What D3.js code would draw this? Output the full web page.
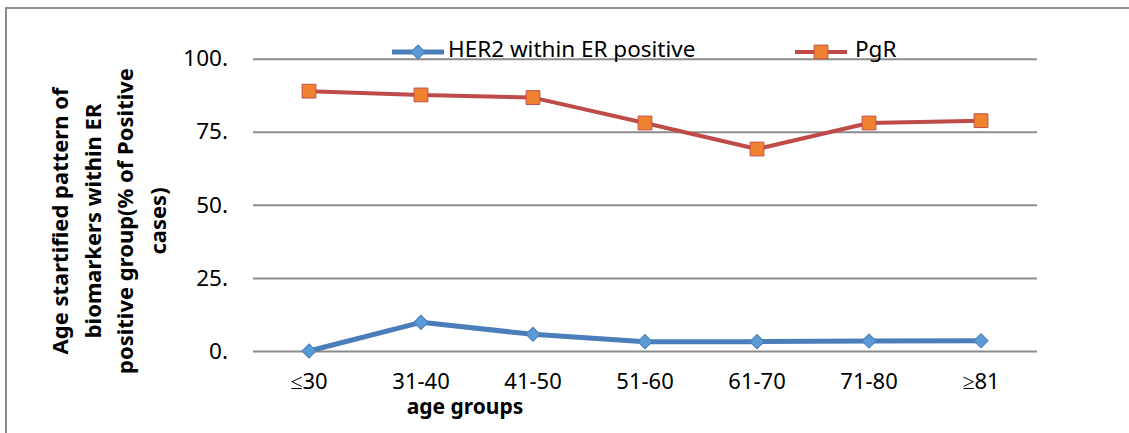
<!DOCTYPE html>
<html lang="en">
  <head>
    <meta charset="UTF-8" />
    <title>Age stratified biomarkers</title>
    <script src="https://cdn.jsdelivr.net/npm/d3@7"></script>
    <style>
      body { margin: 0; background: #fff; }
      text { font-family: "Noto Sans", "Open Sans", sans-serif; }
    </style>
  </head>
  <body>
    <svg width="1129" height="433"></svg>
    <script>
      const categories = ["≤30", "31-40", "41-50", "51-60", "61-70", "71-80", "≥81"];
      const her2 = [0, 9.8, 5.7, 3.2, 3.2, 3.4, 3.5];
      const pgr = [88.9, 87.6, 86.7, 78.0, 69.1, 78.0, 78.8];
      const yTicks = [0, 25, 50, 75, 100];
      const seriesNames = ["HER2 within ER positive", "PgR"];

      const svg = d3.select("svg");
      const marge = { top: 58.7, left: 253, right: 92, bottom: 82 };
      const width = 1129, height = 433;

      // outer frame, cut off at right and bottom
      svg.append("path")
        .attr("d", `M6,433 V8 H1129`)
        .attr("fill", "none")
        .attr("stroke", "#8c8c8c")
        .attr("stroke-width", 2);

      const xScale = d3.scaleBand()
        .domain(categories)
        .range([marge.left, width - marge.right]);
      const yScale = d3.scaleLinear()
        .domain([0, 100])
        .range([height - marge.bottom, marge.top]);

      // gridlines + y labels
      const yAxis = d3.axisLeft(yScale)
        .tickValues(yTicks)
        .tickSize(-(xScale.range()[1] - xScale.range()[0]))
        .tickPadding(25)
        .tickFormat(d => d + ".");
      const gy = svg.append("g")
        .attr("transform", `translate(${marge.left},0)`)
        .call(yAxis);
      gy.select(".domain").remove();
      gy.selectAll(".tick line").attr("stroke", "#8c8c8c").attr("stroke-width", 2);
      gy.selectAll(".tick text")
        .attr("fill", "#000")
        .style("font-size", "22.5px")
        .style("font-family", "Noto Sans");

      // x labels
      const xAxis = d3.axisBottom(xScale).tickSize(0).tickPadding(22);
      const gx = svg.append("g")
        .attr("transform", `translate(0,${yScale(0)})`)
        .call(xAxis);
      gx.select(".domain").remove();
      gx.selectAll(".tick text")
        .attr("fill", "#000")
        .style("font-size", "22px")
        .style("font-family", "Noto Sans");

      // axis titles
      svg.append("text")
        .attr("x", 465).attr("y", 414)
        .attr("text-anchor", "middle")
        .attr("font-weight", "bold")
        .attr("font-size", 21)
        .text("age groups");

      const yTitle = ["Age startified pattern of", "biomarkers within ER", "positive group(% of Positive", "cases)"];
      const yt = svg.append("text")
        .attr("transform", "translate(0,221) rotate(-90)")
        .attr("text-anchor", "middle")
        .attr("font-weight", "bold")
        .attr("font-size", 22);
      yt.selectAll("tspan").data(yTitle).enter().append("tspan")
        .attr("x", 0)
        .attr("dy", (d, i) => i === 0 ? 68 : 32.5)
        .text(d => d);

      const styles = [
        { line: "#4a7ebb", width: 5, fill: "#5b9bd5", stroke: "#4a7ebb", sym: d3.symbolSquare, size: 100, rot: 45 },
        { line: "#be4b48", width: 4, fill: "#f0812f", stroke: "#c0504d", sym: d3.symbolSquare, size: 190, rot: 0 }
      ];
      const series = [her2, pgr];
      const x = c => xScale(c) + xScale.bandwidth() / 2;
      const line = d3.line().x((d, i) => x(categories[i])).y(d => yScale(d));

      series.forEach((vals, s) => {
        const c = styles[s];
        svg.append("path")
          .datum(vals)
          .attr("d", line)
          .attr("fill", "none")
          .attr("stroke", c.line)
          .attr("stroke-width", c.width)
          .attr("stroke-linejoin", "round");
        svg.selectAll(".m" + s).data(vals).enter().append("path")
          .attr("transform", (d, i) => `translate(${x(categories[i])},${yScale(d)}) rotate(${c.rot})`)
          .attr("d", d3.symbol().type(c.sym).size(c.size))
          .attr("fill", c.fill)
          .attr("stroke", c.stroke)
          .attr("stroke-width", 1);
      });

      // legend
      const legendX = [392, 795];
      seriesNames.forEach((name, s) => {
        const c = styles[s];
        const lg = svg.append("g").attr("transform", `translate(${legendX[s]},52)`);
        lg.append("line")
          .attr("x1", 0).attr("x2", 52)
          .attr("stroke", c.line).attr("stroke-width", c.width);
        lg.append("path")
          .attr("transform", `translate(26,0) rotate(${c.rot})`)
          .attr("d", d3.symbol().type(c.sym).size(c.size))
          .attr("fill", c.fill).attr("stroke", c.stroke);
        lg.append("text")
          .attr("x", s === 0 ? 56 : 60).attr("y", 5)
          .attr("font-size", 22.5)
          .text(name);
      });
    </script>
  </body>
</html>
